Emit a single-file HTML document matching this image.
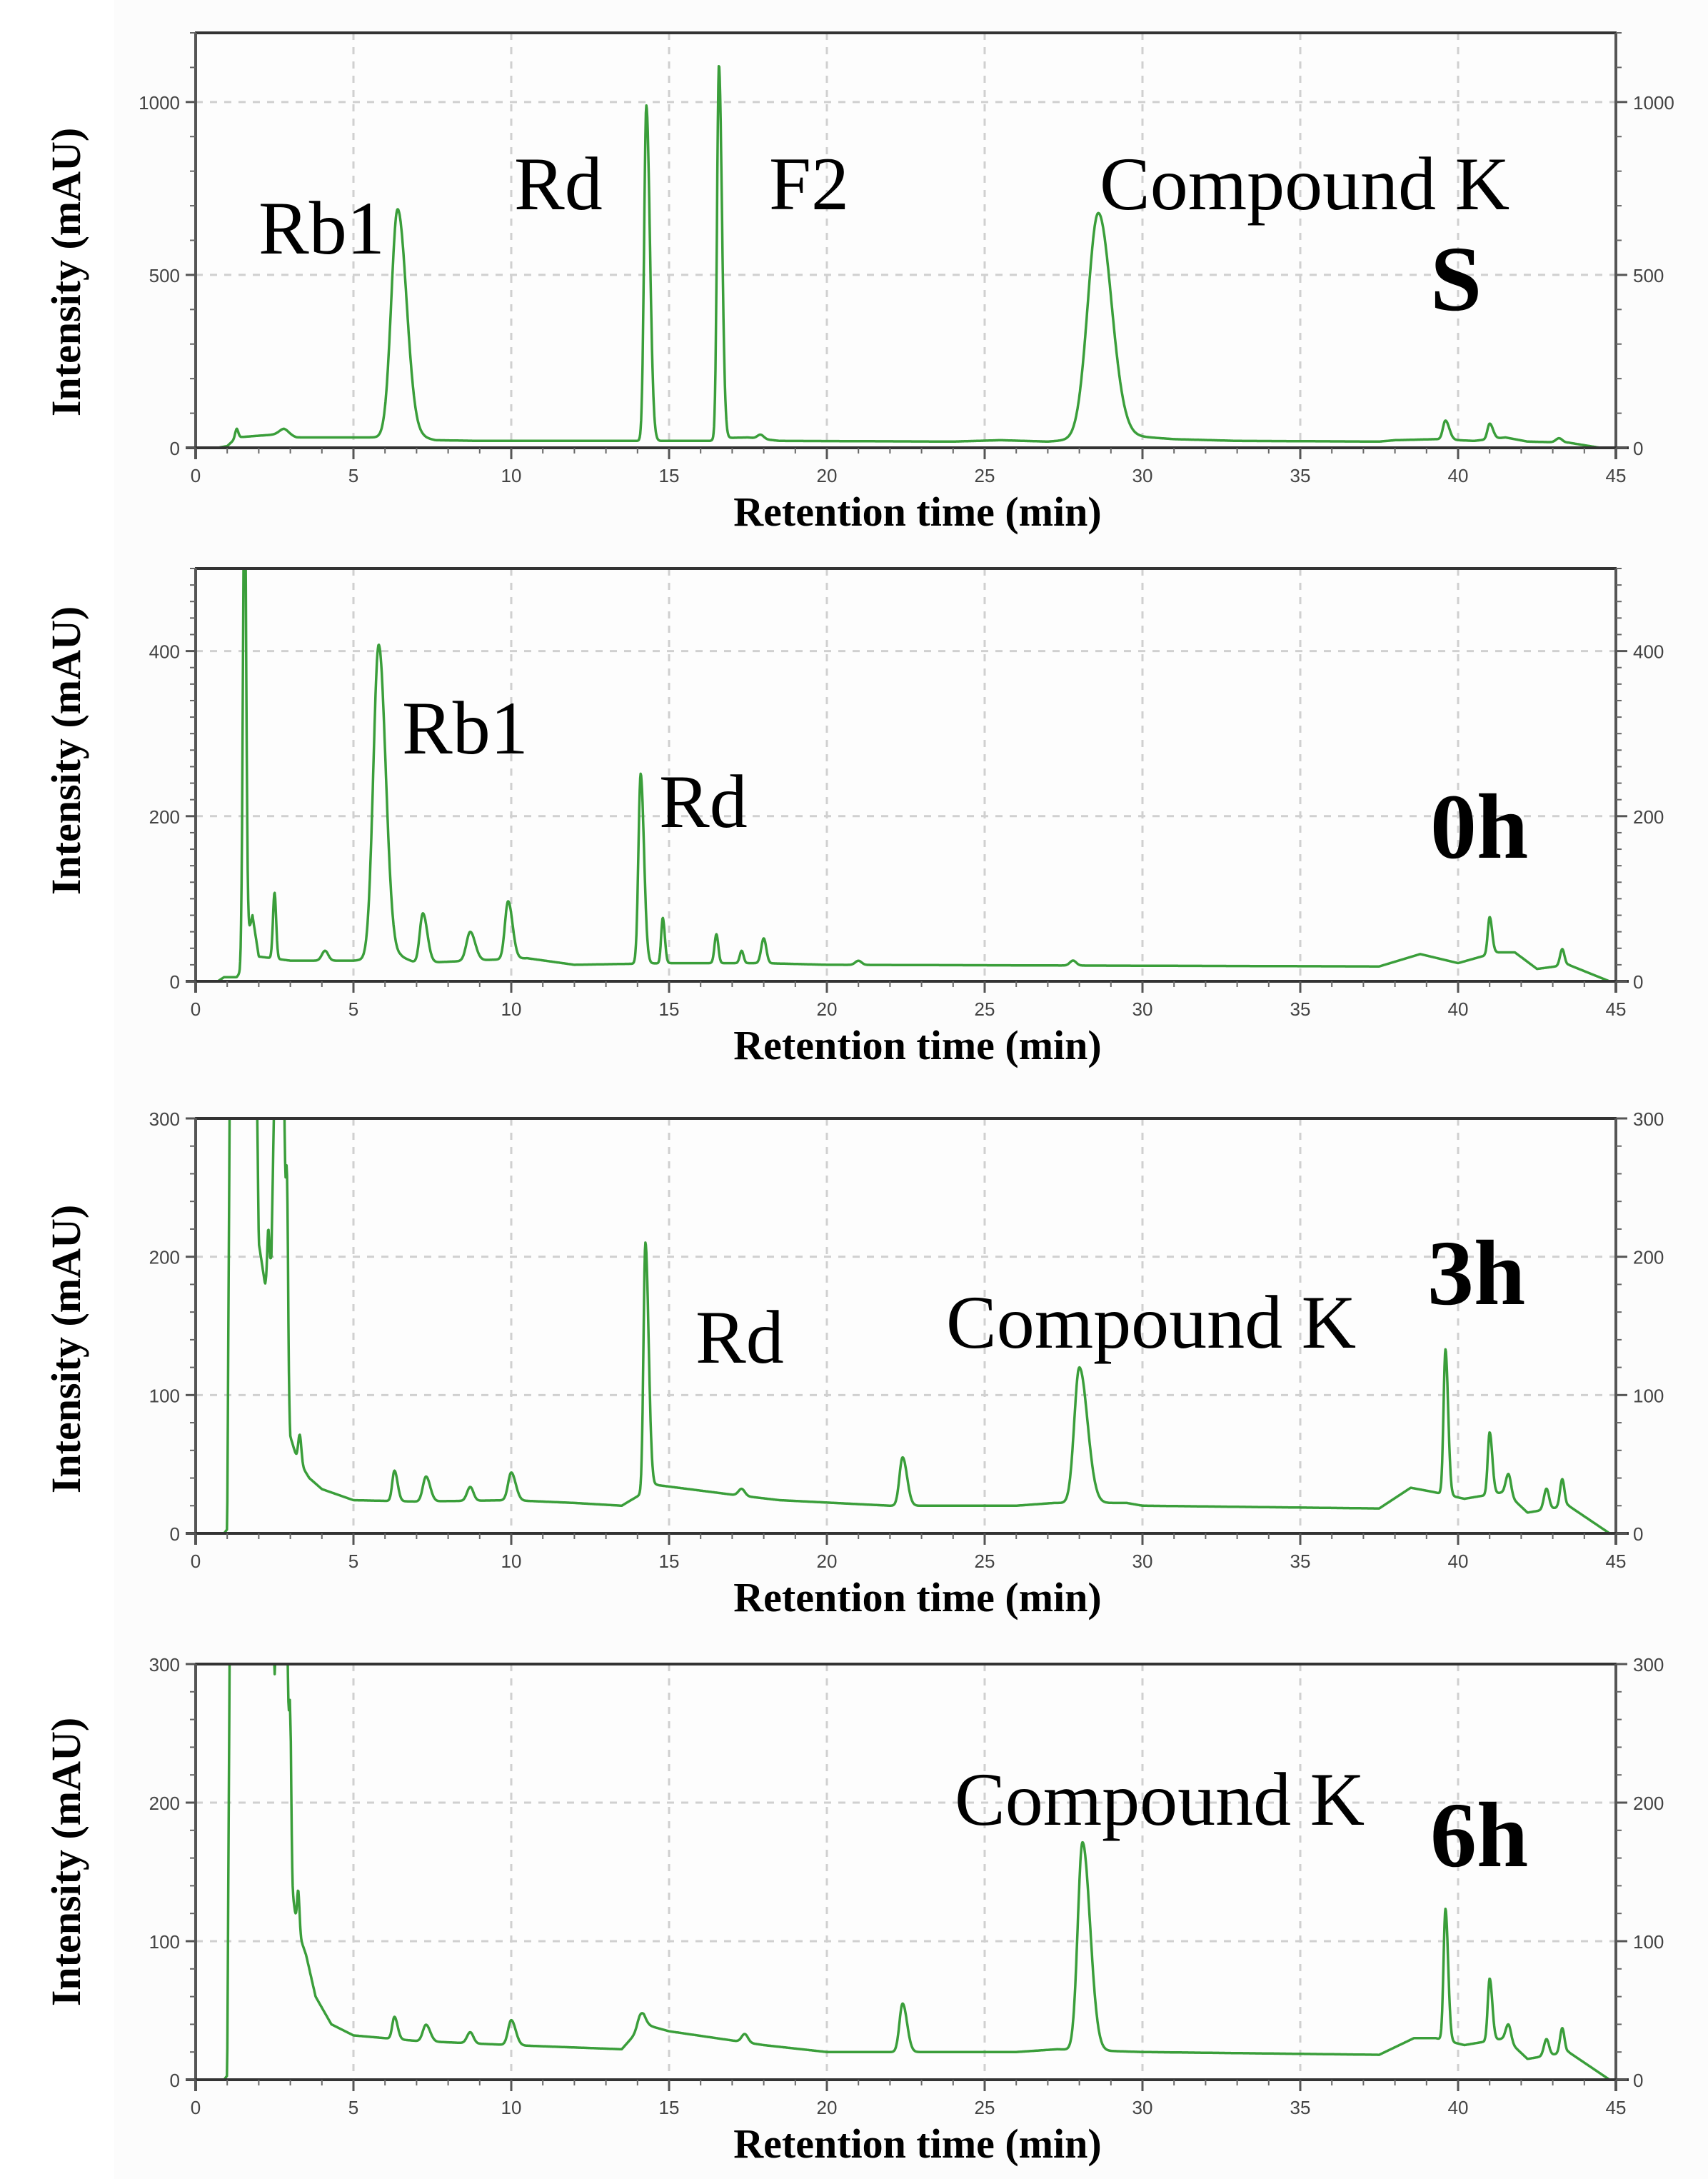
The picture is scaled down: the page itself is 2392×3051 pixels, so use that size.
<!DOCTYPE html>
<html><head><meta charset="utf-8">
<style>
html,body{margin:0;padding:0;background:#fff;}
svg{display:block;}
.tl{font-family:"Liberation Sans",Arial,sans-serif;font-size:26px;fill:#444;}
.at{font-family:"Liberation Serif","Times New Roman",serif;font-weight:bold;font-size:58px;fill:#000;}
.ay{font-family:"Liberation Serif","Times New Roman",serif;font-weight:bold;font-size:58px;fill:#000;}
.an{font-family:"Liberation Serif","Times New Roman",serif;font-size:106px;fill:#000;}
.bg{font-family:"Liberation Serif","Times New Roman",serif;font-weight:bold;font-size:130px;fill:#000;}
</style></head>
<body>
<svg id="s" width="2392" height="3051" viewBox="0 0 2392 3051" xmlns="http://www.w3.org/2000/svg">
<rect x="160" y="0" width="2232" height="3051" fill="#fcfcfc"/>
<g id="g"></g>
<text class="an" x="362" y="355">Rb1</text>
<text class="an" x="720" y="293">Rd</text>
<text class="an" x="1077" y="293">F2</text>
<text class="an" x="1540" y="293">Compound K</text>
<text class="bg" x="2003" y="434">S</text>
<text class="an" x="563" y="1055">Rb1</text>
<text class="an" x="923" y="1158">Rd</text>
<text class="bg" x="2003" y="1201">0h</text>
<text class="an" x="974" y="1908">Rd</text>
<text class="an" x="1325" y="1887">Compound K</text>
<text class="bg" x="1999" y="1826">3h</text>
<text class="an" x="1337" y="2555">Compound K</text>
<text class="bg" x="2003" y="2613">6h</text>
</svg>
<script>
var NS="http://www.w3.org/2000/svg",G=document.getElementById('g');
function el(n,a,t){var e=document.createElementNS(NS,n);for(var k in a)e.setAttribute(k,a[k]);if(t!=null)e.textContent=t;G.appendChild(e);return e;}
var L=274,R=2263;function X(t){return L+t*(R-L)/45;}
function interp(pts,t){if(t<=pts[0][0])return pts[0][1];for(var i=1;i<pts.length;i++){if(t<=pts[i][0]){var a=pts[i-1],b=pts[i];return a[1]+(b[1]-a[1])*(t-a[0])/(b[0]-a[0]);}}return pts[pts.length-1][1];}
function val(p,t){var v=interp(p.base,t);p.peaks.forEach(function(k){var s=t<k[0]?k[2]:k[2]*(k[3]||1.6);var d=(t-k[0])/s;if(Math.abs(d)<8)v+=k[1]*Math.exp(-0.5*d*d);});return v;}
var P=[
{top:46,bot:627,ymax:1200,maj:[0,500,1000],minor:100,lc:381,
base:[[0,0],[0.7,0],[1.0,5],[1.3,30],[2,35],[2.8,40],[3.2,30],[4.5,30],[5.5,30],[7.2,30],[7.6,22],[9,20],[9.5,20],[13.5,20],[16.3,20],[16.6,28],[17.5,30],[18.5,20],[24,18],[25.5,22],[27,18],[29.5,35],[31,25],[33,20],[37.5,18],[38,22],[39.3,25],[40.5,20],[41.5,30],[42.2,18],[43.5,15],[44.5,0],[45,0]],
peaks:[[1.3,25,0.05,1],[2.8,15,0.15,1],[6.4,660,0.2,1.4],[14.28,970,0.07,1.6],[16.58,1080,0.06,1.6],[17.9,12,0.1,1],[28.6,650,0.33,1.25],[39.6,55,0.08,1.5],[41.0,45,0.07,1.5],[43.2,12,0.1,1]]},
{top:796,bot:1374,ymax:500,maj:[0,200,400],minor:20,lc:1051,
base:[[0,0],[0.7,0],[0.9,5],[1.3,5],[1.4,10],[1.8,80],[2.0,30],[3,25],[5,25],[6.5,30],[7,22],[10.5,28],[12,20],[15,22],[18,22],[20,20],[37.5,18],[38.8,33],[40,22],[41.2,35],[41.8,35],[42.5,15],[43.5,20],[44.8,0],[45,0]],
peaks:[[1.55,600,0.05,1],[2.5,80,0.05,1],[4.1,12,0.1,1],[5.8,380,0.17,1.3],[7.2,60,0.1,1.4],[8.7,35,0.12,1.3],[9.9,70,0.1,1.4],[14.1,230,0.07,1.5],[14.8,55,0.05,1.3],[16.5,35,0.06,1],[17.3,15,0.06,1],[18.0,30,0.08,1],[21,5,0.1,1],[27.8,6,0.1,1],[41.0,45,0.06,1.3],[43.3,20,0.07,1]]},
{top:1566,bot:2147,ymax:300,maj:[0,100,200,300],minor:20,lc:1889,
base:[[0,0],[0.9,0],[1.0,3],[1.05,200],[1.1,400],[1.9,400],[2.0,210],[2.2,180],[2.4,200],[2.5,330],[2.8,330],[2.9,120],[3.0,70],[3.2,55],[3.6,40],[4,32],[5,24],[7,23],[10,24],[12,22],[13.5,20],[14.6,35],[17,28],[18.5,24],[22,20],[26,20],[27.2,22],[29.5,22],[30,20],[37.5,18],[38.5,33],[39.2,30],[40.2,25],[41.5,30],[42.2,15],[43.5,20],[44.8,0],[45,0]],
peaks:[[2.3,30,0.03,1],[2.9,130,0.03,1],[3.3,20,0.05,1],[6.3,22,0.07,1.4],[7.3,18,0.1,1.3],[8.7,10,0.1,1],[10.0,20,0.1,1.4],[14.25,180,0.06,1.7],[17.3,5,0.1,1],[22.4,35,0.1,1.4],[28.0,98,0.16,1.6],[39.6,105,0.06,1.4],[41.0,45,0.06,1.4],[41.6,15,0.08,1],[42.8,15,0.08,1],[43.3,20,0.07,1]]},
{top:2330,bot:2912,ymax:300,maj:[0,100,200,300],minor:20,lc:2607,
base:[[0,0],[0.9,0],[1.0,3],[1.05,200],[1.1,400],[2.4,400],[2.5,290],[2.7,400],[2.9,330],[3.0,150],[3.2,110],[3.5,90],[3.8,60],[4.3,40],[5,32],[7,28],[10,25],[13.5,22],[14.2,40],[15,35],[18,25],[20,20],[26,20],[27.3,22],[30,20],[37.5,18],[38.6,30],[39.3,30],[40.2,25],[41.5,30],[42.2,15],[43.5,20],[44.8,0],[45,0]],
peaks:[[3.0,110,0.03,1],[3.25,30,0.04,1],[6.3,16,0.07,1.4],[7.3,12,0.1,1.3],[8.7,8,0.1,1],[10.0,18,0.1,1.4],[14.1,10,0.1,1.3],[17.4,6,0.1,1],[22.4,35,0.1,1.4],[28.1,150,0.15,1.6],[39.6,95,0.06,1.4],[41.0,45,0.06,1.4],[41.6,12,0.08,1],[42.8,12,0.08,1],[43.3,18,0.07,1]]}
];
var xt=[0,5,10,15,20,25,30,35,40,45];
P.forEach(function(p,i){
 var H=p.bot-p.top;function Y(v){return p.bot-v*H/p.ymax;}
 var cid='c'+i;var cp=el('clipPath',{id:cid});var r=document.createElementNS(NS,'rect');r.setAttribute('x',L);r.setAttribute('y',p.top);r.setAttribute('width',R-L);r.setAttribute('height',H);cp.appendChild(r);
 el('rect',{x:L,y:p.top,width:R-L,height:H,fill:'#fdfdfd'});
 for(var t=5;t<45;t+=5)el('line',{x1:X(t),x2:X(t),y1:p.top,y2:p.bot,stroke:'#d0d0d0','stroke-width':3,'stroke-dasharray':'10 10'});
 p.maj.forEach(function(v){if(v>0&&v<p.ymax)el('line',{x1:L,x2:R,y1:Y(v),y2:Y(v),stroke:'#d0d0d0','stroke-width':3,'stroke-dasharray':'10 10'});});
 var d='';for(var t=0;t<=45.0001;t+=0.015){d+=(t==0?'M':'L')+X(t).toFixed(1)+' '+Y(val(p,t)).toFixed(1);}
 el('path',{d:d,fill:'none',stroke:'#3a9e3a','stroke-width':3.5,'clip-path':'url(#'+cid+')','stroke-linejoin':'round'});
 el('line',{x1:L-1,x2:R+1,y1:p.top,y2:p.top,stroke:'#333','stroke-width':4});
 el('line',{x1:L,x2:L,y1:p.top,y2:p.bot+16,stroke:'#555','stroke-width':4});
 el('line',{x1:R,x2:R,y1:p.top,y2:p.bot+16,stroke:'#555','stroke-width':4});
 el('line',{x1:L-14,x2:R+18,y1:p.bot,y2:p.bot,stroke:'#333','stroke-width':4});
 for(var v=0;v<=p.ymax;v+=p.minor){el('line',{x1:L-8,x2:L,y1:Y(v),y2:Y(v),stroke:'#666','stroke-width':2});el('line',{x1:R,x2:R+8,y1:Y(v),y2:Y(v),stroke:'#666','stroke-width':2});}
 p.maj.forEach(function(v){el('line',{x1:L-14,x2:L,y1:Y(v),y2:Y(v),stroke:'#555','stroke-width':3});el('line',{x1:R,x2:R+16,y1:Y(v),y2:Y(v),stroke:'#555','stroke-width':3});
  el('text',{class:'tl',x:L-22,y:Y(v)+10,'text-anchor':'end'},v);el('text',{class:'tl',x:R+24,y:Y(v)+10},v);});
 for(var t=1;t<45;t++){if(t%5)el('line',{x1:X(t),x2:X(t),y1:p.bot,y2:p.bot+8,stroke:'#666','stroke-width':2});}
 xt.forEach(function(t){el('line',{x1:X(t),x2:X(t),y1:p.bot,y2:p.bot+16,stroke:'#555','stroke-width':3});el('text',{class:'tl',x:X(t),y:p.bot+48,'text-anchor':'middle'},t);});
 el('text',{class:'at',x:1285,y:p.bot+109,'text-anchor':'middle'},'Retention time (min)');
 el('text',{class:'ay',x:0,y:0,'text-anchor':'middle',transform:'translate(112 '+p.lc+') rotate(-90)'},'Intensity (mAU)');
});
</script>
</body></html>
